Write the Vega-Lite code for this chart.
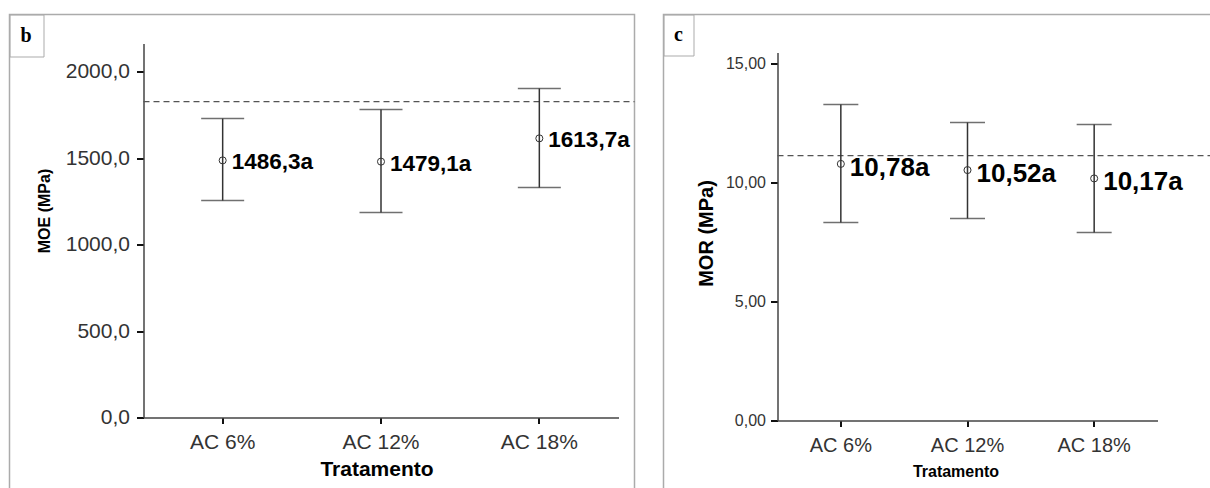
{
  "$schema": "https://vega.github.io/schema/vega-lite/v6.json",
  "padding": {"left": 7.5, "top": 12.5, "right": 0, "bottom": 0},
  "spacing": 25,
  "background": "white",
  "resolve": {"scale": {"strokeDash": "independent"}, "legend": {"strokeDash": "independent"}},
  "config": {
    "font": "Liberation Sans",
    "view": {"stroke": "#ababab", "strokeWidth": 1.5},
    "axis": {
      "grid": false,
      "domainColor": "#444444",
      "domainWidth": 1.5,
      "tickColor": "#111111",
      "tickWidth": 2,
      "labelColor": "#333333",
      "labelFont": "Liberation Sans",
      "titleFont": "Liberation Sans",
      "titleColor": "#000000",
      "titleFontWeight": "bold"
    }
  },
  "datasets": {
    "moe": [
      {"tratamento": "AC 6%", "media": 1486.3, "inf": 1254, "sup": 1728, "rotulo": "1486,3a"},
      {"tratamento": "AC 12%", "media": 1479.1, "inf": 1185, "sup": 1780, "rotulo": "1479,1a"},
      {"tratamento": "AC 18%", "media": 1613.7, "inf": 1329, "sup": 1902, "rotulo": "1613,7a"}
    ],
    "mor": [
      {"tratamento": "AC 6%", "media": 10.78, "inf": 8.32, "sup": 13.28, "rotulo": "10,78a"},
      {"tratamento": "AC 12%", "media": 10.52, "inf": 8.49, "sup": 12.52, "rotulo": "10,52a"},
      {"tratamento": "AC 18%", "media": 10.17, "inf": 7.90, "sup": 12.44, "rotulo": "10,17a"}
    ]
  },
  "hconcat": [
    {
      "width": 625,
      "height": 476,
      "layer": [
        {
          "data": {"values": [{"referencia": 1826}]},
          "mark": {"type": "rule", "strokeWidth": 1.2, "color": "#555555"},
          "encoding": {
            "x": {"datum": "AC 6%", "type": "nominal", "bandPosition": 0},
            "x2": {"value": "width"},
            "y": {"field": "referencia", "type": "quantitative"},
            "strokeDash": {
              "datum": "b",
              "type": "nominal",
              "scale": {"range": [[6, 4]]},
              "legend": {
                "orient": "top-left",
                "offset": 0,
                "values": [],
                "title": "\u00a0b\u00a0",
                "titleFont": "Liberation Serif",
                "titleFontSize": 20,
                "titleFontWeight": "bold",
                "titleColor": "#000000",
                "titlePadding": 0,
                "padding": 11,
                "strokeColor": "#ababab"
              }
            }
          }
        },
        {
          "data": {"name": "moe"},
          "mark": {"type": "rule", "strokeWidth": 1.5, "color": "#333333"},
          "encoding": {
            "x": {
              "field": "tratamento",
              "type": "nominal",
              "scale": {"type": "band", "domain": ["AC 6%", "AC 12%", "AC 18%"], "range": [134, 609], "paddingInner": 0, "paddingOuter": 0},
              "axis": {
                "title": "Tratamento",
                "offset": -73,
                "labelAngle": 0,
                "labelAlign": "center",
                "labelBaseline": "alphabetic",
                "labelFontSize": 21,
                "tickSize": 6,
                "labelPadding": 25,
                "titleFontSize": 21,
                "titleX": 367,
                "titleY": 58,
                "titleAlign": "center",
                "titleBaseline": "alphabetic"
              }
            },
            "y": {
              "field": "inf",
              "type": "quantitative",
              "scale": {"domain": [0, 2162], "range": [403, 29], "nice": false, "zero": false},
              "axis": {
                "title": "MOE (MPa)",
                "offset": -134,
                "values": [0, 500, 1000, 1500, 2000],
                "labelExpr": "replace(format(datum.value, '.1f'), '.', ',')",
                "labelFontSize": 21,
                "tickSize": 7,
                "labelPadding": 7,
                "titleFontSize": 16,
                "titleAngle": 270,
                "titleX": -94,
                "titleY": 196,
                "titleAlign": "center",
                "titleBaseline": "alphabetic"
              }
            },
            "y2": {"field": "sup"}
          }
        },
        {
          "data": {"name": "moe"},
          "mark": {"type": "tick", "size": 43, "thickness": 1.5, "color": "#333333"},
          "encoding": {
            "x": {"field": "tratamento", "type": "nominal"},
            "y": {"field": "inf", "type": "quantitative"}
          }
        },
        {
          "data": {"name": "moe"},
          "mark": {"type": "tick", "size": 43, "thickness": 1.5, "color": "#333333"},
          "encoding": {
            "x": {"field": "tratamento", "type": "nominal"},
            "y": {"field": "sup", "type": "quantitative"}
          }
        },
        {
          "data": {"name": "moe"},
          "mark": {"type": "point", "shape": "circle", "filled": false, "size": 50, "stroke": "#333333", "strokeWidth": 1, "opacity": 1},
          "encoding": {
            "x": {"field": "tratamento", "type": "nominal"},
            "y": {"field": "media", "type": "quantitative"}
          }
        },
        {
          "data": {"name": "moe"},
          "mark": {"type": "text", "align": "left", "baseline": "middle", "dx": 9, "dy": 2, "fontSize": 22.5, "fontWeight": "bold", "color": "#000000"},
          "encoding": {
            "x": {"field": "tratamento", "type": "nominal"},
            "y": {"field": "media", "type": "quantitative"},
            "text": {"field": "rotulo"}
          }
        }
      ]
    },
    {
      "width": 550,
      "height": 476,
      "layer": [
        {
          "data": {"values": [{"referencia": 11.13}]},
          "mark": {"type": "rule", "strokeWidth": 1.2, "color": "#555555"},
          "encoding": {
            "x": {"datum": "AC 6%", "type": "nominal", "bandPosition": 0},
            "x2": {"value": "width"},
            "y": {"field": "referencia", "type": "quantitative"},
            "strokeDash": {
              "datum": "c",
              "type": "nominal",
              "scale": {"range": [[6, 4]]},
              "legend": {
                "orient": "top-left",
                "offset": 0,
                "values": [],
                "title": "c",
                "titleFont": "Liberation Serif",
                "titleFontSize": 20,
                "titleFontWeight": "bold",
                "titleColor": "#000000",
                "titlePadding": 0,
                "padding": 10.5,
                "strokeColor": "#ababab"
              }
            }
          }
        },
        {
          "data": {"name": "mor"},
          "mark": {"type": "rule", "strokeWidth": 1.5, "color": "#333333"},
          "encoding": {
            "x": {
              "field": "tratamento",
              "type": "nominal",
              "scale": {"type": "band", "domain": ["AC 6%", "AC 12%", "AC 18%"], "range": [114, 494], "paddingInner": 0, "paddingOuter": 0},
              "axis": {
                "title": "Tratamento",
                "offset": -70,
                "labelAngle": 0,
                "labelAlign": "center",
                "labelBaseline": "alphabetic",
                "labelFontSize": 20,
                "tickSize": 6,
                "labelPadding": 25,
                "titleFontSize": 16,
                "titleX": 292,
                "titleY": 56,
                "titleAlign": "center",
                "titleBaseline": "alphabetic"
              }
            },
            "y": {
              "field": "inf",
              "type": "quantitative",
              "scale": {"domain": [0, 15.46], "range": [406, 38], "nice": false, "zero": false},
              "axis": {
                "title": "MOR (MPa)",
                "offset": -114,
                "values": [0, 5, 10, 15],
                "labelExpr": "replace(format(datum.value, '.2f'), '.', ',')",
                "labelFontSize": 16,
                "tickSize": 7,
                "labelPadding": 5,
                "titleFontSize": 20,
                "titleAngle": 270,
                "titleX": -65,
                "titleY": 218.5,
                "titleAlign": "center",
                "titleBaseline": "alphabetic"
              }
            },
            "y2": {"field": "sup"}
          }
        },
        {
          "data": {"name": "mor"},
          "mark": {"type": "tick", "size": 35, "thickness": 1.5, "color": "#333333"},
          "encoding": {
            "x": {"field": "tratamento", "type": "nominal"},
            "y": {"field": "inf", "type": "quantitative"}
          }
        },
        {
          "data": {"name": "mor"},
          "mark": {"type": "tick", "size": 35, "thickness": 1.5, "color": "#333333"},
          "encoding": {
            "x": {"field": "tratamento", "type": "nominal"},
            "y": {"field": "sup", "type": "quantitative"}
          }
        },
        {
          "data": {"name": "mor"},
          "mark": {"type": "point", "shape": "circle", "filled": false, "size": 50, "stroke": "#333333", "strokeWidth": 1, "opacity": 1},
          "encoding": {
            "x": {"field": "tratamento", "type": "nominal"},
            "y": {"field": "media", "type": "quantitative"}
          }
        },
        {
          "data": {"name": "mor"},
          "mark": {"type": "text", "align": "left", "baseline": "middle", "dx": 9, "dy": 4, "fontSize": 26, "fontWeight": "bold", "color": "#000000"},
          "encoding": {
            "x": {"field": "tratamento", "type": "nominal"},
            "y": {"field": "media", "type": "quantitative"},
            "text": {"field": "rotulo"}
          }
        }
      ]
    }
  ]
}
